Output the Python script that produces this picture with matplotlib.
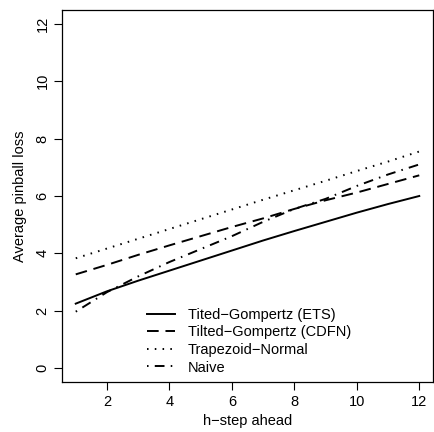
import matplotlib
matplotlib.use("Agg")
import matplotlib.pyplot as plt

plt.rcParams['font.family'] = ['Liberation Sans', 'DejaVu Sans']

h = list(range(1, 13))
ets = [2.25, 2.68, 3.05, 3.4, 3.75, 4.1, 4.45, 4.78, 5.1, 5.42, 5.72, 6.0]
cdfn = [3.27, 3.6, 3.95, 4.28, 4.6, 4.92, 5.22, 5.55, 5.85, 6.12, 6.42, 6.72]
trap = [3.83, 4.17, 4.51, 4.85, 5.19, 5.53, 5.87, 6.2, 6.53, 6.87, 7.2, 7.55]
naive = [1.97, 2.65, 3.2, 3.7, 4.15, 4.6, 5.1, 5.55, 5.9, 6.35, 6.75, 7.1]
labels = ["Tited\u2212Gompertz (ETS)", "Tilted\u2212Gompertz (CDFN)",
          "Trapezoid\u2212Normal", "Naive"]
xticks = [2, 4, 6, 8, 10, 12]
yticks = [0, 2, 4, 6, 8, 10, 12]

fig = plt.figure(figsize=(4.35, 4.32), dpi=100)
ax = fig.add_axes([62/435, 1 - 382/432, (433-62)/435, (382-10)/432])

lw = 1.4
ax.plot(h, ets, color='black', lw=lw, linestyle='-', label=labels[0])
ax.plot(h, cdfn, color='black', lw=lw, linestyle=(0, (6, 3.5)), label=labels[1])
ax.plot(h, trap, color='black', lw=lw, linestyle=(0, (0.8, 3.2)), label=labels[2])
ax.plot(h, naive, color='black', lw=lw, linestyle=(0, (0.8, 3.2, 5, 3.2)), label=labels[3])

ax.set_xlim(0.56, 12.44)
ax.set_ylim(-0.48, 12.48)
ax.set_xticks(xticks)
ax.set_yticks(yticks)
ax.set_yticklabels([str(v) for v in yticks], rotation=90, va='center')
ax.tick_params(direction='out', length=6, width=0.8, labelsize=10.5, pad=3)
for s in ax.spines.values():
    s.set_linewidth(0.9)

ax.set_xlabel("h\u2212step ahead", fontsize=10.5, labelpad=4)
ax.set_ylabel("Average pinball loss", fontsize=10.5, labelpad=6)

leg = ax.legend(loc='lower left', bbox_to_anchor=(0.229, 0.02), frameon=False,
                fontsize=10.5, handlelength=1.9, handletextpad=0.9,
                labelspacing=0.25, borderaxespad=0, borderpad=0)

fig.savefig("out.png", dpi=100)
